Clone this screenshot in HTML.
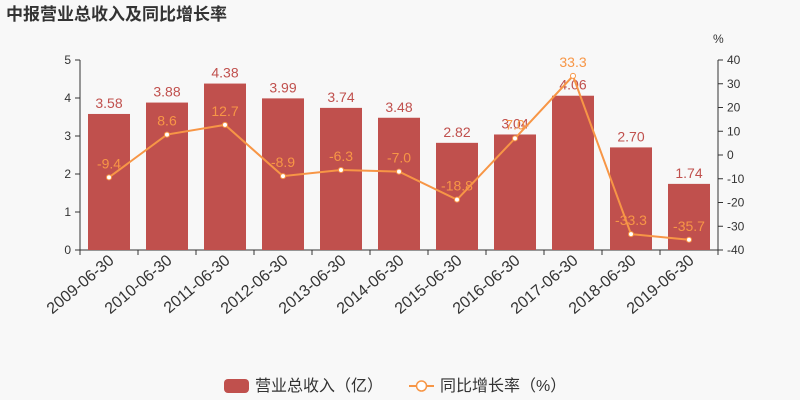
<!DOCTYPE html>
<html><head><meta charset="utf-8"><style>
body{margin:0;background:#f8f8f8;}
svg{display:block;font-family:"Liberation Sans","Noto Sans CJK SC",sans-serif;}
</style></head><body>
<svg id="c" width="800" height="400" xmlns="http://www.w3.org/2000/svg">
<rect width="800" height="400" fill="#f8f8f8"/>
<text x="6" y="20" font-size="17" font-weight="bold" fill="#333">中报营业总收入及同比增长率</text>
<text x="713" y="43" font-size="12" fill="#333">%</text>
<g id="axes"></g><g id="bars"></g><g id="line"></g>
<g>
<rect x="224" y="379" width="25" height="14" rx="4" fill="#c0504d"/>
<text x="255" y="391" font-size="16" fill="#333">营业总收入（亿）</text>
<line x1="409" y1="386" x2="434" y2="386" stroke="#f79646" stroke-width="2"/>
<circle cx="421.5" cy="386" r="5" fill="#fff" stroke="#f79646" stroke-width="1.5"/>
<text x="440" y="391" font-size="16" fill="#333">同比增长率（%）</text>
</g>
</svg>
<script>
const categories=["2009-06-30","2010-06-30","2011-06-30","2012-06-30","2013-06-30","2014-06-30","2015-06-30","2016-06-30","2017-06-30","2018-06-30","2019-06-30"];
const revenue=[3.58,3.88,4.38,3.99,3.74,3.48,2.82,3.04,4.06,2.70,1.74];
const growth=[-9.4,8.6,12.7,-8.9,-6.3,-7.0,-18.8,7.0,33.3,-33.3,-35.7];
const leftTicks=[0,1,2,3,4,5];
const rightTicks=[-40,-30,-20,-10,0,10,20,30,40];
const NS="http://www.w3.org/2000/svg";
const X0=80,X1=718,Y0=250,Y1=60;
const band=(X1-X0)/categories.length;
const xc=i=>X0+band*(i+0.5);
const yL=v=>Y0-(v-0)/(5-0)*(Y0-Y1);
const yR=v=>Y0-(v+40)/80*(Y0-Y1);
function mk(p,tag,a,txt){const e=document.createElementNS(NS,tag);for(const k in a)e.setAttribute(k,a[k]);if(txt!==undefined)e.textContent=txt;p.appendChild(e);return e;}
const ax=document.getElementById('axes'),bg=document.getElementById('bars'),lg=document.getElementById('line');
let e;
e=mk(ax,'line',{x1:X0,y1:Y1,x2:X0,y2:Y0,stroke:'#333'});


e=mk(ax,'line',{x1:X1,y1:Y1,x2:X1,y2:Y0,stroke:'#333'});


e=mk(ax,'line',{x1:X0,y1:Y0,x2:X1,y2:Y0,stroke:'#333'});


leftTicks.forEach(t=>{const y=yL(t);mk(ax,'line',{x1:X0-5,y1:y,x2:X0,y2:y,stroke:'#333'});
e=mk(ax,'text',{x:X0-9,y:y+4,'font-size':12,fill:'#333','text-anchor':'end'},t);

});
rightTicks.forEach(t=>{const y=yR(t);mk(ax,'line',{x1:X1,y1:y,x2:X1+5,y2:y,stroke:'#333'});
e=mk(ax,'text',{x:X1+9,y:y+4,'font-size':12,fill:'#333'},t);

});
for(let i=0;i<=categories.length;i++){mk(ax,'line',{x1:X0+band*i,y1:Y0,x2:X0+band*i,y2:Y0+5,stroke:'#333'});}
categories.forEach((c,i)=>{const x=xc(i)+6,y=Y0+12;
e=mk(ax,'text',{x:x,y:y,'font-size':16,fill:'#333','text-anchor':'end',transform:`rotate(-40 ${x} ${y})`},c);

});
const bw=42;
revenue.forEach((v,i)=>{const y=yL(v);
e=mk(bg,'rect',{x:xc(i)-bw/2,y:y,width:bw,height:Y0-y,fill:'#c0504d'});


e=mk(bg,'text',{x:xc(i),y:y-6,'font-size':14,fill:'#c0504d','text-anchor':'middle'},v.toFixed(2));

});
e=mk(lg,'polyline',{points:growth.map((g,i)=>xc(i)+','+yR(g)).join(' '),fill:'none',stroke:'#f79646','stroke-width':2});


growth.forEach((g,i)=>{const y=yR(g);
e=mk(lg,'circle',{cx:xc(i),cy:y,r:2.5,fill:'#fff',stroke:'#f79646'});


e=mk(lg,'text',{x:xc(i),y:y-9,'font-size':14,fill:'#f79646','text-anchor':'middle'},g.toFixed(1));

});
</script>
</body></html>
